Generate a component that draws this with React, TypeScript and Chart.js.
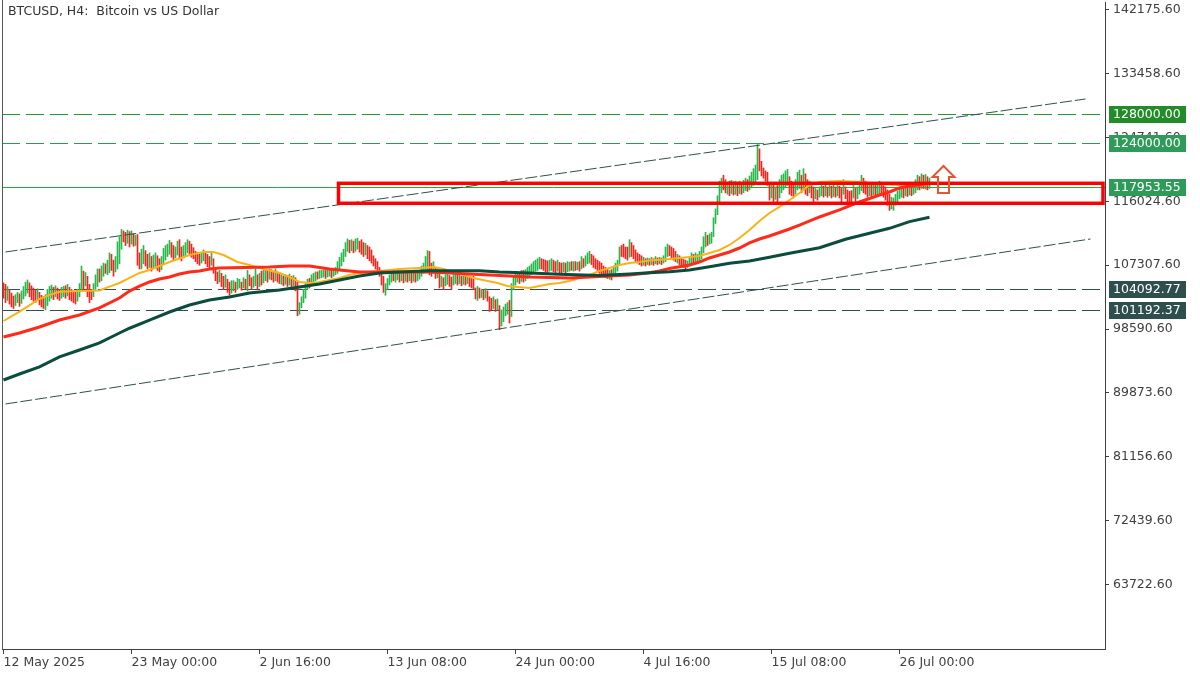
import React, { useEffect, useRef } from 'react';
import { Chart, registerables } from 'chart.js';

Chart.register(...registerables);

const FONT = '"DejaVu Sans", "Liberation Sans", sans-serif';
const FS = 12.5;

const chartTitle = 'BTCUSD, H4:  Bitcoin vs US Dollar';
const xTickBars = [0, 64, 128, 192, 256, 320, 384, 448];
const xTickLabels = ['12 May 2025', '23 May 00:00', '2 Jun 16:00', '13 Jun 08:00', '24 Jun 00:00', '4 Jul 16:00', '15 Jul 08:00', '26 Jul 00:00'];
const yTickValues = [63722.6, 72439.6, 81156.6, 89873.6, 98590.6, 107307.6, 116024.6, 124741.6, 133458.6, 142175.6];

// H4 bars, prices in hundreds of USD
const lows = [
  1028,1022,1025,1020,1016,1014,1018,1022,1017,1021,
  1027,1031,1035,1030,1026,1024,1022,1025,1019,1016,
  1014,1012,1018,1024,1028,1026,1030,1027,1025,1028,
  1030,1028,1031,1026,1024,1022,1020,1024,1030,1038,
  1040,1045,1030,1022,1026,1030,1040,1044,1050,1052,
  1058,1062,1060,1063,1066,1058,1064,1068,1075,1095,
  1105,1100,1103,1098,1102,1099,1100,1073,1068,1068,
  1075,1072,1068,1070,1065,1068,1070,1066,1064,1067,
  1075,1080,1085,1088,1084,1080,1083,1087,1082,1079,
  1083,1086,1090,1087,1084,1082,1078,1075,1073,1076,
  1079,1075,1071,1068,1073,1062,1052,1048,1050,1044,
  1040,1043,1036,1032,1035,1038,1036,1040,1042,1039,
  1042,1040,1038,1045,1040,1043,1045,1040,1044,1046,
  1049,1052,1050,1054,1053,1050,1052,1050,1048,1047,
  1045,1047,1044,1046,1043,1045,1038,1004,1006,1015,
  1022,1028,1040,1042,1045,1048,1052,1054,1055,1056,
  1057,1055,1057,1058,1056,1058,1060,1062,1068,1072,
  1078,1085,1092,1090,1093,1090,1092,1095,1091,1088,
  1085,1087,1082,1079,1076,1072,1068,1065,1058,1046,
  1036,1032,1040,1046,1050,1052,1050,1053,1050,1052,
  1049,1051,1050,1052,1049,1051,1050,1052,1054,1058,
  1062,1065,1066,1060,1058,1062,1055,1056,1042,1044,
  1040,1045,1047,1044,1040,1046,1048,1046,1048,1045,
  1047,1046,1048,1044,1042,1040,1027,1025,1028,1029,
  1026,1028,1024,1010,1012,1014,1010,1012,985,990,
  996,1004,1006,994,1003,1040,1046,1050,1048,1051,
  1050,1052,1055,1058,1060,1063,1065,1066,1068,1068,
  1066,1064,1063,1065,1066,1064,1063,1065,1062,1063,
  1064,1062,1064,1065,1066,1065,1066,1067,1065,1068,
  1070,1072,1075,1076,1074,1070,1068,1066,1062,1060,
  1058,1056,1055,1054,1053,1058,1062,1065,1075,1085,
  1084,1082,1080,1084,1085,1082,1078,1076,1074,1072,
  1073,1072,1074,1073,1074,1073,1075,1074,1075,1074,
  1076,1078,1085,1086,1083,1080,1078,1076,1074,1072,
  1070,1068,1070,1072,1075,1074,1076,1077,1078,1082,
  1090,1098,1100,1102,1103,1112,1130,1142,1160,1172,
  1176,1172,1170,1168,1171,1169,1170,1168,1171,1170,
  1172,1175,1174,1176,1180,1182,1185,1190,1202,1195,
  1192,1188,1182,1162,1165,1160,1163,1160,1165,1172,
  1176,1180,1182,1170,1168,1165,1170,1176,1178,1172,
  1175,1170,1168,1172,1165,1160,1164,1162,1166,1168,
  1166,1168,1166,1168,1165,1167,1166,1168,1165,1160,
  1170,1164,1158,1156,1160,1165,1160,1164,1170,1175,
  1172,1170,1166,1168,1167,1169,1166,1168,1170,1168,
  1166,1162,1155,1148,1150,1148,1155,1160,1164,1166,
  1165,1168,1167,1169,1168,1170,1172,1176,1176,1178,
  1178,1177,1176,1178,
];

const highs = [
  1049,1047,1044,1040,1035,1031,1033,1036,1034,1038,
  1044,1050,1053,1049,1045,1042,1039,1041,1036,1032,
  1030,1033,1040,1044,1046,1043,1045,1042,1040,1043,
  1044,1045,1047,1043,1040,1038,1036,1040,1048,1072,
  1065,1063,1058,1047,1040,1048,1060,1068,1068,1072,
  1076,1075,1080,1090,1088,1080,1085,1105,1112,1122,
  1120,1118,1121,1119,1120,1116,1114,1115,1090,1095,
  1100,1093,1088,1090,1085,1087,1090,1086,1082,1085,
  1096,1100,1102,1107,1104,1100,1098,1106,1108,1098,
  1100,1104,1108,1106,1102,1097,1092,1090,1088,1090,
  1094,1092,1088,1085,1090,1082,1068,1064,1066,1062,
  1058,1060,1054,1050,1052,1052,1050,1055,1054,1050,
  1056,1054,1066,1060,1056,1058,1068,1060,1062,1065,
  1066,1068,1066,1068,1067,1065,1068,1064,1063,1060,
  1058,1060,1059,1061,1058,1059,1056,1050,1022,1030,
  1040,1048,1054,1055,1060,1062,1064,1064,1066,1066,
  1067,1066,1068,1068,1067,1069,1070,1078,1084,1090,
  1095,1104,1109,1107,1108,1106,1109,1110,1106,1108,
  1104,1103,1100,1098,1094,1086,1082,1078,1070,1066,
  1058,1048,1055,1060,1063,1066,1064,1066,1064,1065,
  1062,1064,1063,1064,1062,1063,1062,1065,1066,1072,
  1076,1085,1093,1092,1076,1078,1070,1068,1064,1058,
  1056,1060,1062,1059,1057,1060,1062,1060,1061,1058,
  1060,1059,1061,1058,1056,1058,1042,1044,1042,1040,
  1040,1041,1038,1030,1028,1030,1026,1027,1018,1012,
  1016,1020,1022,1025,1048,1057,1062,1064,1062,1066,
  1066,1067,1070,1072,1075,1078,1080,1082,1084,1082,
  1081,1080,1079,1080,1082,1080,1078,1080,1077,1076,
  1077,1076,1078,1077,1078,1078,1078,1077,1078,1085,
  1082,1086,1090,1092,1088,1086,1082,1080,1078,1076,
  1072,1070,1068,1066,1067,1072,1076,1080,1098,1100,
  1102,1098,1098,1108,1104,1100,1094,1090,1088,1086,
  1084,1082,1083,1082,1084,1082,1085,1083,1084,1083,
  1086,1098,1102,1100,1098,1096,1092,1088,1086,1084,
  1081,1080,1079,1084,1090,1088,1090,1088,1092,1098,
  1112,1118,1114,1116,1118,1138,1150,1168,1188,1192,
  1196,1190,1186,1188,1189,1187,1188,1186,1188,1186,
  1189,1192,1190,1195,1200,1205,1210,1238,1232,1215,
  1206,1202,1200,1186,1182,1184,1180,1182,1190,1196,
  1198,1202,1204,1194,1188,1184,1190,1200,1203,1196,
  1205,1198,1190,1188,1182,1180,1178,1176,1180,1182,
  1181,1183,1180,1182,1181,1183,1180,1182,1181,1178,
  1190,1180,1176,1174,1175,1182,1178,1180,1188,1196,
  1192,1188,1182,1184,1184,1185,1182,1184,1188,1186,
  1182,1180,1176,1170,1166,1165,1170,1174,1178,1180,
  1179,1182,1182,1184,1183,1185,1190,1196,1194,1198,
  1196,1197,1194,1192,
];

// G = bullish bar, R = bearish bar
const directions =
  'RRGRRRGGRG' + 'GGGRRRRGRR' + 'RGGGGRGRRG' + 'GRGRRRRGGG' + 'RGRRRGGGRG' +
  'GRGGRRGGGG' + 'RRGRGRGRRG' + 'GRRGRGGRRG' + 'GGGGRRGGRR' + 'GGGRRRRRRG' +
  'GRRRGRRRGR' + 'RGRRGGRGGR' + 'GRGRRGGRGR' + 'GGRGRRGRRG' + 'RGRGRGRRGG' +
  'GGGRGGGRGG' + 'GRGGRGGGGG' + 'GGGRGRGGRR' + 'RGRRRRRRRR' + 'RGGGGRGGRG' +
  'RGRGRGRGGG' + 'GGGRRGRGRG' + 'RGGRRGGRGR' + 'GRGRRRRGRG' + 'RGRRRGRGRG' +
  'GGGRGGGGRG' + 'RGGGGGGGGR' + 'RRRGGRRGRR' + 'GRGGRGRGRG' + 'RGGGRRRRRR' +
  'RRRGRGGGGR' + 'RRRGRRRRRR' + 'GRGRGRGRGR' + 'GGGRRRRGRR' + 'RRGGGRGGGG' +
  'GGRGGGGGGG' + 'RRGRGRGRGR' + 'GGRGGGGGRR' + 'RRRRGRGRGG' + 'GGGRRRGGGR' +
  'GRRGRRGRGG' + 'RGRGRGRGRR' + 'GRRRRGRGGG' + 'RRRGRGRGGR' + 'RRRRGGGGGG' +
  'RGRGRGGGRG' + 'RGRG';

// moving averages: [bar index, price in hundreds]
const maFast: [number, number][] = [
  [0,996.9],[8,1009.6],[18,1027],[23,1032.4],[28,1036.9],[38,1037.9],[48,1038.5],[53,1043.8],
  [58,1048.8],[63,1055.7],[68,1062.5],[73,1066.6],[83,1077.5],[93,1087],[100,1091.2],[105,1091.2],
  [110,1087],[117,1077.5],[123,1073.4],[130,1067.9],[138,1062.5],[143,1057],[148,1050.2],[153,1048.8],
  [158,1050.2],[163,1052.9],[168,1055.7],[173,1059.7],[178,1062.5],[188,1065.2],[198,1067.9],[208,1069.3],
  [215,1070.7],[220,1067.9],[225,1063.9],[230,1059.7],[235,1055.7],[242,1051.6],[247,1048.8],[252,1044.8],
  [257,1043.4],[263,1042],[268,1044.8],[273,1047.5],[278,1048.8],[283,1051.6],[288,1055.7],[293,1059.7],
  [298,1065.2],[303,1069.3],[308,1073.4],[313,1076.2],[318,1077.5],[323,1079.6],[333,1081.6],[343,1084.4],
  [348,1085.7],[353,1089.8],[358,1093.9],[363,1100.7],[368,1110.3],[373,1121.2],[378,1133.5],[383,1144.5],
  [388,1152.7],[393,1162.2],[398,1171.8],[403,1182.7],[408,1186.8],[418,1188.2],[428,1186.8],[438,1184],
  [448,1182.7],[456,1181.3],[463,1184],
];
const maMid: [number, number][] = [
  [0,975.1],[8,980.5],[18,988.7],[28,998.2],[38,1005.1],[48,1014.7],[58,1028.3],[63,1037.8],
  [68,1044.6],[73,1050.2],[78,1054.3],[83,1057],[88,1061.1],[93,1063.9],[98,1065.2],[103,1067.9],
  [108,1069.3],[133,1070.7],[143,1072],[153,1072],[163,1067.9],[178,1063.9],[198,1063.9],[213,1063.9],
  [233,1061.1],[248,1059],[263,1057],[283,1055.7],[298,1057.7],[313,1059.7],[322,1062.5],[328,1065.2],
  [333,1068.6],[343,1073.4],[348,1077.5],[353,1083],[358,1087],[363,1091.2],[368,1096.6],[373,1103.5],
  [378,1108.9],[383,1113],[388,1117.8],[393,1122.6],[398,1128],[408,1139],[418,1148.6],[428,1159.5],
  [438,1169],[443,1173.1],[448,1178.6],[453,1181.3],[458,1182.7],[463,1185.4],
];
const maSlow: [number, number][] = [
  [0,916.3],[8,924.5],[18,934.1],[28,947.8],[38,957.3],[48,966.9],[58,980.5],[63,987],
  [73,998.2],[83,1009.2],[93,1018.7],[103,1025.6],[113,1029.7],[123,1035.2],[133,1037.9],[138,1039.2],
  [148,1043.4],[158,1047.5],[168,1052.9],[178,1058.4],[188,1062.5],[198,1063.9],[213,1065.6],[238,1065.6],
  [248,1063.9],[263,1062.5],[278,1060.7],[298,1059],[313,1061.1],[323,1062.8],[333,1064.2],[343,1066.6],
  [353,1071.1],[363,1075.7],[373,1078.9],[383,1084],[393,1089.4],[408,1097],[421,1108.5],[433,1116.7],
  [443,1123.5],[453,1132.6],[463,1138.5],
];

const levelHigh = [128000, 124000];
const levelLow = [104092.77, 101192.37];
const currentPrice = 117953.55;
const channelUpper: [number, number][] = [[1, 109118], [541, 130018]];
const channelLower: [number, number][] = [[1, 88355], [543.5, 110894]];
const zoneStartBar = 167.5;
const zoneTop = 118500;
const zoneBottom = 115770;
const arrowBar = 470;
const arrowBasePrice = 117178;

const X_MIN = -0.75;
const X_MAX = 550.75;
const Y_MIN = 54880;
const Y_MAX = 143268;

const GREEN = '#27b84b';
const RED = '#f4231b';

const crispY = (ys: any, v: number) => Math.round(ys.getPixelForValue(v)) + 0.5;

const overlayPlugin = {
  id: 'overlay',
  beforeDatasetsDraw(chart: any) {
    const { ctx, chartArea, scales } = chart;
    const ys = scales.y;
    ctx.save();
    ctx.lineWidth = 1;
    const lines: [number, string, number[]][] = [
      [levelHigh[0], '#1f9a30', [18, 6]],
      [levelHigh[1], '#2a9a5a', [18, 6]],
      [levelLow[0], '#2f4f4f', [18, 6]],
      [levelLow[1], '#2f4f4f', [18, 6]],
      [currentPrice, '#1fae3c', []],
    ];
    lines.forEach(([v, c, d]) => {
      const y = crispY(ys, v);
      ctx.strokeStyle = c;
      ctx.setLineDash(d);
      ctx.beginPath();
      ctx.moveTo(chartArea.left, y);
      ctx.lineTo(chartArea.right, y);
      ctx.stroke();
    });
    ctx.restore();
  },
  afterDatasetsDraw(chart: any) {
    const { ctx, chartArea, scales } = chart;
    const xs = scales.x;
    const ys = scales.y;
    ctx.save();
    ctx.beginPath();
    ctx.rect(chartArea.left, chartArea.top, chartArea.right - chartArea.left, chartArea.bottom - chartArea.top);
    ctx.clip();
    // support / resistance zone
    const zx = xs.getPixelForValue(zoneStartBar);
    const zt = ys.getPixelForValue(zoneTop);
    const zb = ys.getPixelForValue(zoneBottom);
    ctx.strokeStyle = '#ff0000';
    ctx.lineWidth = 3.5;
    ctx.lineJoin = 'miter';
    ctx.strokeRect(zx, zt, chartArea.right - 2 - zx, zb - zt);
    // arrow
    const ax = xs.getPixelForValue(arrowBar);
    const ay = ys.getPixelForValue(arrowBasePrice);
    ctx.beginPath();
    ctx.moveTo(ax - 5.5, ay);
    ctx.lineTo(ax - 5.5, ay - 16);
    ctx.lineTo(ax - 11, ay - 16);
    ctx.lineTo(ax, ay - 27);
    ctx.lineTo(ax + 11, ay - 16);
    ctx.lineTo(ax + 5.5, ay - 16);
    ctx.lineTo(ax + 5.5, ay);
    ctx.closePath();
    ctx.strokeStyle = '#e5532f';
    ctx.lineWidth = 2;
    ctx.stroke();
    ctx.restore();
  },
  afterDraw(chart: any) {
    const { ctx, chartArea, scales } = chart;
    const ys = scales.y;
    ctx.save();
    // left frame
    ctx.strokeStyle = '#555';
    ctx.lineWidth = 1;
    ctx.beginPath();
    ctx.moveTo(2.5, 0);
    ctx.lineTo(2.5, chartArea.bottom);
    ctx.stroke();
    // title
    ctx.fillStyle = '#333';
    ctx.font = `${FS}px ${FONT}`;
    ctx.textAlign = 'left';
    ctx.textBaseline = 'middle';
    ctx.fillText(chartTitle, 8, 12);
    // price labels
    const boxes: [number, string, string][] = [
      [levelHigh[0], '#238b28', levelHigh[0].toFixed(2)],
      [levelHigh[1], '#2e9c58', levelHigh[1].toFixed(2)],
      [currentPrice, '#2e9c58', currentPrice.toFixed(2)],
      [levelLow[0], '#2f4f4f', levelLow[0].toFixed(2)],
      [levelLow[1], '#2f4f4f', levelLow[1].toFixed(2)],
    ];
    boxes.forEach(([v, bg, txt]) => {
      const y = Math.round(ys.getPixelForValue(v));
      ctx.fillStyle = bg;
      ctx.fillRect(chartArea.right + 4, y - 8, 77, 17);
      ctx.fillStyle = '#ffffff';
      ctx.fillText(txt, chartArea.right + 8, y + 1);
    });
    ctx.restore();
  },
};

const noPad = (s: any) => {
  s.paddingTop = 0;
  s.paddingBottom = 0;
  s.paddingLeft = 0;
  s.paddingRight = 0;
};

export default function App() {
  const ref = useRef<HTMLCanvasElement | null>(null);

  useEffect(() => {
    if (!ref.current) return;
    Chart.defaults.font.family = FONT;
    Chart.defaults.font.size = FS;

    const candles = lows.map((l, i) => ({ x: i, y: [l * 100, highs[i] * 100] }));
    const candleColors = lows.map((_, i) => (directions[i] === 'G' ? GREEN : RED));
    const toPts = (arr: [number, number][], mul: number) => arr.map(([b, v]) => ({ x: b, y: v * mul }));

    const lineBase = { type: 'line' as const, pointRadius: 0, fill: false, tension: 0 };

    const chart = new Chart(ref.current, {
      type: 'bar',
      data: {
        datasets: [
          { ...lineBase, data: toPts(maFast, 100), borderColor: '#fbb117', borderWidth: 2, order: 5 } as any,
          { ...lineBase, data: toPts(maMid, 100), borderColor: '#ff2a1a', borderWidth: 3, order: 4 } as any,
          { ...lineBase, data: toPts(maSlow, 100), borderColor: '#0b4d3d', borderWidth: 3, order: 3 } as any,
          { ...lineBase, data: toPts(channelUpper, 1), borderColor: '#2f4f4f', borderWidth: 1, borderDash: [12, 3], order: 9 } as any,
          { ...lineBase, data: toPts(channelLower, 1), borderColor: '#2f4f4f', borderWidth: 1, borderDash: [12, 3], order: 9 } as any,
          {
            type: 'bar',
            data: candles,
            backgroundColor: candleColors,
            borderWidth: 0,
            barThickness: 1,
            grouped: false,
            order: 10,
          } as any,
        ],
      },
      options: {
        responsive: false,
        animation: false,
        devicePixelRatio: 1,
        layout: { padding: { left: 2, top: 2, right: 0, bottom: 0 } },
        plugins: { legend: { display: false }, tooltip: { enabled: false }, title: { display: false } },
        events: [],
        scales: {
          x: {
            type: 'linear',
            min: X_MIN,
            max: X_MAX,
            offset: false,
            position: 'bottom',
            afterBuildTicks: (s: any) => { s.ticks = xTickBars.map((v) => ({ value: v })); },
            afterFit: (s: any) => { s.height = 26; noPad(s); },
            ticks: {
              autoSkip: false,
              maxRotation: 0,
              minRotation: 0,
              align: 'start',
              padding: 1,
              color: '#404040',
              font: { family: FONT, size: FS },
              callback: (_v: any, i: number) => xTickLabels[i],
            },
            grid: { drawOnChartArea: false, drawTicks: true, tickLength: 5, color: '#404040', offset: false },
            border: { display: true, color: '#404040', width: 1 },
          } as any,
          y: {
            type: 'linear',
            position: 'right',
            min: Y_MIN,
            max: Y_MAX,
            beginAtZero: false,
            afterBuildTicks: (s: any) => { s.ticks = yTickValues.map((v) => ({ value: v })); },
            afterFit: (s: any) => { s.width = 95; noPad(s); },
            ticks: {
              padding: 4,
              color: '#404040',
              font: { family: FONT, size: FS },
              callback: (v: any) => Number(v).toFixed(2),
            },
            grid: { drawOnChartArea: false, drawTicks: true, tickLength: 4, color: '#404040' },
            border: { display: true, color: '#404040', width: 1 },
          } as any,
        },
      },
      plugins: [overlayPlugin],
    });
    return () => chart.destroy();
  }, []);

  return (
    <div style={{ position: 'fixed', left: 0, top: 0, width: 1200, height: 675, background: '#ffffff' }}>
      <canvas ref={ref} width={1200} height={675} style={{ display: 'block' }} />
    </div>
  );
}
